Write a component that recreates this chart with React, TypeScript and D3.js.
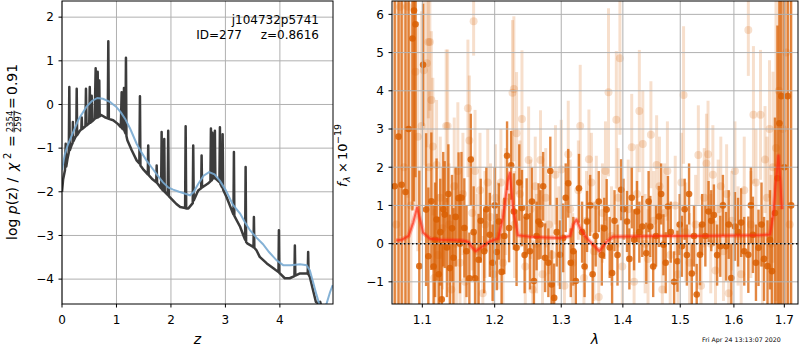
import React from "react";
import * as d3 from "d3";

// ---- p(z) panel data: [z, log p(z)] ----
const pzFull: [number, number][] = [
  [0.0, -2.0], [0.02, -1.72], [0.055, -1.5], [0.068, -0.9], [0.078, -1.42], [0.1, -1.25], [0.125, -1.1],
  [0.134, 0.4], [0.143, -1.05], [0.18, -0.92], [0.195, -0.88], [0.2, -0.4], [0.207, -0.85], [0.24, -0.76],
  [0.262, -0.72], [0.27, 0.36], [0.278, -0.7], [0.33, -0.6], [0.355, -0.57], [0.362, -0.3], [0.37, -0.56],
  [0.43, -0.5], [0.44, 0.36], [0.45, -0.48], [0.5, -0.43], [0.51, 0.4], [0.52, -0.42], [0.538, -0.4],
  [0.545, 0.2], [0.553, -0.39], [0.6, -0.33], [0.618, 0.83], [0.63, -0.31], [0.645, -0.3], [0.655, 0.75],
  [0.665, -0.29], [0.676, -0.28], [0.684, 0.55], [0.692, -0.27], [0.72, -0.24], [0.8, -0.3], [0.84, -0.32],
  [0.85, 1.45], [0.86, -0.33], [0.94, -0.36], [1.03, -0.45], [1.08, -0.52], [1.095, 0.28], [1.104, -0.55],
  [1.11, -0.55], [1.114, 0.25], [1.122, -0.56], [1.13, -0.58], [1.138, 0.38], [1.146, -0.6], [1.165, -0.66],
  [1.174, 1.07], [1.183, -0.72], [1.2, -0.82], [1.28, -1.05], [1.37, -1.28], [1.42, -1.35], [1.431, 0.19],
  [1.44, -1.4], [1.5, -1.5], [1.575, -1.6], [1.583, -0.94], [1.592, -1.62], [1.65, -1.7], [1.73, -1.78],
  [1.738, -1.4], [1.746, -1.8], [1.82, -1.92], [1.829, -0.63], [1.838, -1.95], [1.868, -1.98], [1.877, -0.79],
  [1.886, -2.0], [1.94, -2.07], [1.95, -0.6], [1.96, -2.1], [2.04, -2.2], [2.1, -2.28], [2.17, -2.35],
  [2.26, -2.37], [2.27, -0.5], [2.28, -2.38], [2.32, -2.38], [2.4, -2.26], [2.409, -0.94], [2.418, -2.2],
  [2.5, -1.97], [2.555, -1.92], [2.563, -1.17], [2.571, -1.9], [2.68, -1.81], [2.725, -1.76], [2.734, -0.55],
  [2.743, -1.74], [2.752, -1.73], [2.76, -0.65], [2.768, -1.7], [2.8, -1.68], [2.807, -0.6], [2.815, -1.69],
  [2.89, -1.78], [2.899, -0.52], [2.908, -1.82], [2.94, -1.9], [2.949, -0.68], [2.958, -1.95], [3.02, -2.12],
  [3.14, -2.5], [3.148, -2.52], [3.156, -1.09], [3.164, -2.55], [3.27, -2.8], [3.33, -3.0], [3.362, -3.1],
  [3.371, -1.43], [3.38, -3.15], [3.4, -3.18], [3.51, -3.26], [3.515, -3.27], [3.523, -2.58], [3.531, -3.28],
  [3.57, -3.34], [3.63, -3.49], [3.76, -3.64], [3.88, -3.75], [3.974, -3.84], [3.982, -2.88], [3.99, -3.86],
  [4.0, -3.87], [4.09, -3.98], [4.18, -3.98], [4.267, -3.93], [4.275, -3.23], [4.283, -3.92], [4.37, -3.87],
  [4.49, -3.87], [4.511, -3.88], [4.519, -3.38], [4.527, -3.9], [4.55, -3.95], [4.61, -4.26], [4.66, -4.52],
  [4.7, -4.55], [4.74, -4.52], [4.78, -4.75]
];

const pzSmooth: [number, number][] = [
  [0, -1.5], [0.05, -1.15], [0.1, -0.95], [0.2, -0.65], [0.3, -0.35], [0.45, -0.05], [0.55, 0.08],
  [0.65, 0.15], [0.75, 0.13], [0.88, 0.06], [1.0, -0.06], [1.08, -0.18], [1.16, -0.33], [1.25, -0.55],
  [1.37, -0.9], [1.45, -1.08], [1.55, -1.28], [1.65, -1.45], [1.74, -1.6], [1.85, -1.78], [1.95, -1.9],
  [2.04, -1.95], [2.15, -2.0], [2.25, -2.04], [2.35, -2.08], [2.42, -2.0], [2.5, -1.82], [2.6, -1.63],
  [2.7, -1.55], [2.8, -1.6], [2.9, -1.75], [3.0, -1.95], [3.14, -2.3], [3.27, -2.5], [3.35, -2.68],
  [3.45, -2.88], [3.57, -3.05], [3.69, -3.2], [3.8, -3.38], [3.94, -3.57], [4.06, -3.68], [4.2, -3.68],
  [4.37, -3.66], [4.49, -3.68], [4.55, -3.8], [4.61, -4.07], [4.67, -4.35], [4.73, -4.6], [4.8, -4.7],
  [4.86, -4.55], [4.92, -4.3], [4.97, -4.14]
];

const zTicks = [0, 1, 2, 3, 4];
const logpTicks = [-4, -3, -2, -1, 0, 1, 2];

// ---- spectrum panel data: [lambda, flux, err] ----
const specBinned: [number, number, number][] = [
  [1.064, 1.5, 7], [1.069, 2.8, 6], [1.073, 1.54, 6], [1.078, 1.35, 5], [1.082, 3.0, 5],
  [1.087, 5.37, 4.5], [1.089, 6.1, 5], [1.091, 5.74, 4], [1.096, -0.59, 2.5], [1.101, 4.68, 1.6],
  [1.105, 0.89, 2.0], [1.108, -0.33, 1.8], [1.112, 1.11, 1.8], [1.115, -0.6, 1.6],
  [1.117, 0.1, 1.5], [1.119, 0.63, 1.6], [1.122, -0.8, 1.5], [1.124, 0.3, 1.4], [1.126, -1.46, 1.5],
  [1.128, 0.9, 1.5], [1.13, 0.76, 1.4], [1.133, -0.1, 1.3], [1.135, 1.3, 1.3], [1.137, -0.64, 1.4],
  [1.14, 0.4, 1.4], [1.142, -0.37, 1.3], [1.145, 0.7, 1.3], [1.149, 1.19, 1.2], [1.151, 0.0, 1.3],
  [1.153, 1.2, 1.2], [1.157, 0.41, 1.3], [1.16, -0.2, 1.2], [1.164, -0.91, 1.2], [1.166, 2.2, 1.2],
  [1.17, 0.3, 1.2], [1.172, -0.91, 1.2], [1.177, -0.42, 1.2], [1.18, 0.6, 1.1], [1.185, -0.2, 1.1],
  [1.188, 0.9, 1.1], [1.193, 0.23, 1.1], [1.197, -0.5, 1.0], [1.2, 1.0, 1.0], [1.203, -0.22, 1.0],
  [1.206, 0.58, 1.0], [1.21, -0.74, 1.0], [1.214, 0.2, 1.0], [1.218, 2.3, 0.9], [1.221, 0.41, 0.9],
  [1.224, 2.05, 0.9], [1.228, 0.84, 1.0], [1.232, -0.11, 1.0], [1.236, 1.6, 1.0], [1.24, 0.93, 1.0],
  [1.244, -0.3, 1.0], [1.247, 0.71, 1.0], [1.252, -0.2, 1.0], [1.255, 1.1, 0.9], [1.258, -0.98, 1.0],
  [1.262, 0.2, 0.9], [1.265, 0.58, 1.0], [1.268, 0.5, 0.9], [1.272, 1.5, 0.9], [1.275, -0.37, 0.9],
  [1.28, -0.5, 0.9], [1.283, 1.9, 0.9], [1.285, -1.07, 0.9], [1.289, -1.42, 0.9], [1.293, 0.3, 0.9],
  [1.298, -0.29, 0.9], [1.303, 0.15, 0.9], [1.307, 1.2, 0.9], [1.311, 1.58, 0.9], [1.315, -0.5, 0.9],
  [1.319, -0.2, 0.9], [1.323, -0.98, 0.8], [1.328, 1.45, 0.9], [1.333, 0.3, 0.8], [1.337, -0.6, 0.8],
  [1.341, 0.58, 0.8], [1.346, 1.0, 0.8], [1.35, -0.8, 0.8], [1.355, 0.2, 0.8], [1.36, 1.1, 0.8],
  [1.365, -0.3, 0.8], [1.369, 0.4, 0.8], [1.373, 0.89, 0.8], [1.378, -0.1, 0.8], [1.382, -0.77, 0.8],
  [1.386, 0.6, 0.8], [1.391, -0.3, 0.8], [1.397, 1.41, 0.8], [1.401, 0.9, 0.8], [1.407, 0.58, 0.8],
  [1.411, -0.4, 0.8], [1.415, 1.2, 0.8], [1.419, 0.1, 0.8], [1.424, 0.84, 0.8], [1.428, 0.3, 0.8],
  [1.433, 0.45, 0.8], [1.44, -0.25, 0.8], [1.444, 1.1, 0.8], [1.447, 0.45, 0.8], [1.452, -0.6, 0.8],
  [1.457, 0.2, 0.8], [1.462, 0.71, 0.8], [1.466, 1.3, 0.8], [1.47, -0.03, 0.8], [1.474, -0.5, 0.8],
  [1.478, 0.97, 0.8], [1.483, 0.3, 0.8], [1.489, -1.0, 0.8], [1.495, -0.46, 0.8], [1.499, 0.5, 0.8],
  [1.503, -0.07, 0.8], [1.508, 0.9, 0.8], [1.512, -0.3, 0.8], [1.516, 1.3, 0.8], [1.521, -0.78, 0.8],
  [1.525, 0.2, 0.8], [1.53, -1.33, 0.8], [1.536, -0.29, 0.8], [1.54, 0.5, 0.8], [1.546, 0.2, 0.8],
  [1.552, 0.84, 0.8], [1.557, 0.6, 0.8], [1.562, 0.75, 0.8], [1.568, -0.3, 0.8], [1.574, -0.07, 0.8],
  [1.579, 1.0, 0.8], [1.585, -0.07, 0.9], [1.59, 0.5, 0.9], [1.595, -0.9, 0.9], [1.602, 0.45, 0.9],
  [1.608, 0.3, 0.9], [1.614, 0.55, 0.9], [1.62, -0.2, 0.9], [1.628, -0.29, 1.0], [1.633, 1.0, 1.0],
  [1.637, 0.23, 1.0], [1.643, -0.5, 1.0], [1.648, -0.11, 1.0], [1.654, 0.5, 1.1], [1.659, -0.4, 1.1],
  [1.666, -0.59, 1.2], [1.671, 0.1, 1.3], [1.675, -0.72, 1.4], [1.681, 0.8, 2.5],
  [1.686, 1.71, 4], [1.69, 3.15, 5], [1.694, 3.86, 6], [1.7, 2.0, 7],
  [1.707, 3.86, 7], [1.714, 1.0, 8]
];

const specPixel: [number, number, number][] = [
  [1.066, 0.5, 8], [1.071, 6.2, 6], [1.076, 2.0, 6], [1.081, 6.2, 5], [1.085, 1.0, 5], [1.091, 4.5, 3.5],
  [1.094, 2.8, 3], [1.099, 3.08, 3], [1.102, 4.54, 2.5], [1.106, 4.72, 2.2], [1.108, 5.28, 2], [1.11, 5.28, 1.8],
  [1.109, 2.0, 2], [1.112, 3.76, 1.8], [1.114, 2.54, 1.8], [1.116, -0.9, 1.8], [1.119, 2.06, 1.7],
  [1.121, -0.3, 1.6], [1.124, 1.2, 1.6], [1.127, 0.4, 1.6], [1.132, 3.08, 2.0], [1.134, 3.08, 2.0],
  [1.136, 0.5, 1.6], [1.139, -1.2, 1.6], [1.143, 1.5, 1.8], [1.146, 0.0, 1.6], [1.148, 1.9, 1.8],
  [1.151, -0.5, 1.5], [1.155, 1.3, 1.6], [1.158, -1.0, 1.5], [1.162, 3.54, 1.8], [1.164, 2.7, 1.7],
  [1.17, 5.82, 0.9], [1.168, 0.8, 1.5], [1.172, 1.9, 1.6], [1.175, -0.2, 1.5], [1.179, 1.4, 1.5],
  [1.183, -1.3, 1.5], [1.186, 0.5, 1.4], [1.19, 1.6, 1.4], [1.194, 0.7, 1.4], [1.198, -0.8, 1.4],
  [1.201, 1.2, 1.4], [1.205, 0.2, 1.4], [1.209, 1.6, 1.4], [1.212, -0.5, 1.4], [1.216, 1.1, 1.4],
  [1.226, 3.95, 1.9], [1.228, 4.05, 1.9], [1.232, 2.89, 1.6], [1.229, 0.5, 1.4], [1.24, 3.26, 1.8],
  [1.237, 1.3, 1.4], [1.25, 2.19, 1.4], [1.245, -0.6, 1.3], [1.253, 0.9, 1.3], [1.256, -1.2, 1.3],
  [1.26, 1.5, 1.3], [1.262, 0.0, 1.3], [1.268, 2.19, 1.3], [1.271, -0.8, 1.3], [1.276, 1.2, 1.3],
  [1.281, 0.5, 1.3], [1.286, -0.3, 1.3], [1.291, 1.8, 1.3], [1.296, 0.2, 1.3], [1.3, 1.94, 1.3],
  [1.305, -1.1, 1.3], [1.311, 2.34, 1.4], [1.314, 0.9, 1.3], [1.318, -0.5, 1.3], [1.33, 3.08, 1.6],
  [1.327, 1.4, 1.3], [1.344, 2.21, 1.3], [1.336, -0.9, 1.3], [1.34, 0.6, 1.3], [1.348, 1.6, 1.3],
  [1.352, -0.2, 1.3], [1.356, 1.0, 1.3], [1.36, -1.4, 1.3], [1.366, 0.8, 1.3], [1.371, 1.9, 1.3],
  [1.376, 3.96, 2.2], [1.381, 0.2, 1.3], [1.389, 3.24, 1.8], [1.395, 4.85, 2.0], [1.392, 1.2, 1.3],
  [1.399, -0.6, 1.3], [1.415, 2.52, 1.4], [1.409, 0.9, 1.3], [1.428, 3.47, 1.6], [1.419, -1.0, 1.3],
  [1.434, 2.61, 1.4], [1.424, 1.3, 1.3], [1.438, 0.0, 1.3], [1.448, 2.85, 1.4], [1.443, -0.4, 1.3],
  [1.458, 2.06, 1.3], [1.453, 0.6, 1.3], [1.463, 1.5, 1.3], [1.468, -1.2, 1.3], [1.472, 0.8, 1.3],
  [1.477, 1.9, 1.3], [1.482, -0.3, 1.3], [1.506, 3.89, 1.8], [1.491, 1.0, 1.3], [1.496, -0.8, 1.3],
  [1.502, 1.6, 1.3], [1.51, 0.3, 1.3], [1.533, 2.32, 1.3], [1.517, -0.5, 1.3], [1.548, 2.1, 1.3],
  [1.551, 2.34, 1.4], [1.528, 0.5, 1.3], [1.538, -1.1, 1.3], [1.544, 1.2, 1.3], [1.556, 0.0, 1.3],
  [1.56, 1.8, 1.3], [1.565, -0.7, 1.3], [1.57, 0.9, 1.3], [1.575, 1.5, 1.3], [1.58, -0.2, 1.3],
  [1.586, 1.3, 1.3], [1.59, -1.3, 1.3], [1.596, 0.6, 1.3], [1.602, 1.9, 1.3], [1.608, 0.2, 1.3],
  [1.614, -0.8, 1.3], [1.62, 1.4, 1.4], [1.628, 5.59, 1.2], [1.638, 3.37, 1.8], [1.633, 0.5, 1.4],
  [1.643, 1.6, 1.4], [1.652, 3.37, 1.7], [1.656, -0.5, 1.5], [1.661, 2.2, 1.4], [1.67, 3.0, 1.8],
  [1.665, 1.2, 1.6], [1.673, 0.0, 1.8], [1.677, 2.0, 2.5], [1.683, 2.5, 4],
  [1.689, 4.0, 6], [1.697, 3.0, 7], [1.704, 5.0, 7], [1.711, 0.5, 8]
];

const modelFlux: [number, number][] = [
  [1.066, 0.08], [1.073, 0.1], [1.082, 0.2], [1.088, 0.55], [1.093, 0.94], [1.098, 0.55], [1.101, 0.29],
  [1.11, 0.13], [1.124, 0.1], [1.155, 0.08], [1.162, 0.05], [1.168, -0.1], [1.173, -0.2], [1.183, -0.07],
  [1.192, 0.05], [1.205, 0.13], [1.212, 0.68], [1.219, 1.63], [1.222, 1.85], [1.227, 0.9], [1.234, 0.22],
  [1.252, 0.18], [1.277, 0.16], [1.298, 0.15], [1.314, 0.2], [1.319, 0.5], [1.324, 0.63], [1.33, 0.4],
  [1.34, 0.15], [1.352, -0.05], [1.361, -0.2], [1.368, -0.05], [1.373, 0.05], [1.383, 0.18], [1.464, 0.2],
  [1.523, 0.2], [1.651, 0.22], [1.671, 0.24], [1.678, 0.8], [1.682, 1.5], [1.688, 2.3], [1.692, 1.6],
  [1.695, 0.9]
];

const lamTicks = [1.1, 1.2, 1.3, 1.4, 1.5, 1.6, 1.7];
const fluxTicks = [-1, 0, 1, 2, 3, 4, 5, 6];

const objName = "j104732p5741";
const objId = "ID=277";
const objZ = "z=0.8616";
const stamp = "Fri Apr 24 13:13:07 2020";

const FONT = "DejaVu Sans, sans-serif";
const fmt = (v: number) => (v < 0 ? "\u2212" + Math.abs(v) : String(v));

export default function App() {
  const L = { x0: 62, x1: 333, y0: 1, y1: 304 };
  const R = { x0: 392, x1: 798, y0: 1, y1: 304 };

  const zx = d3.scaleLinear().domain([0, 4.975]).range([L.x0, L.x1]);
  const zy = d3.scaleLinear().domain([-4.57, 2.37]).range([L.y1, L.y0]);
  const lx = d3.scaleLog().domain([1.0606, 1.7282]).range([R.x0, R.x1]);
  const fy = d3.scaleLinear().domain([-1.58, 6.35]).range([R.y1, R.y0]);

  const pzLine = d3.line<[number, number]>().x(d => zx(d[0])).y(d => zy(d[1]));
  const modelLine = d3.line<[number, number]>().x(d => lx(d[0])).y(d => fy(d[1]));

  const orange = "#d95f02";

  return (
    <svg width={800} height={350} style={{ position: "absolute", left: 0, top: 0 }} fontFamily={FONT}>
      <defs>
        <clipPath id="clipL"><rect x={L.x0} y={L.y0} width={L.x1 - L.x0} height={L.y1 - L.y0} /></clipPath>
        <clipPath id="clipR"><rect x={R.x0} y={R.y0} width={R.x1 - R.x0} height={R.y1 - R.y0} /></clipPath>
      </defs>
      <rect width={800} height={350} fill="#fff" />

      {/* ---------- left: p(z) ---------- */}
      <g>
        {zTicks.map(t => (
          <line key={"zg" + t} x1={zx(t)} x2={zx(t)} y1={L.y0} y2={L.y1} stroke="#b0b0b0" strokeWidth={1} />
        ))}
        {logpTicks.map(t => (
          <line key={"pg" + t} x1={L.x0} x2={L.x1} y1={zy(t)} y2={zy(t)} stroke="#b0b0b0" strokeWidth={1} />
        ))}
        <g clipPath="url(#clipL)">
          <path d={pzLine(pzFull)!} fill="none" stroke="#3c3c3c" strokeWidth={2.5} strokeLinejoin="round" />
          <path d={pzLine(pzSmooth)!} fill="none" stroke="#78aad2" strokeWidth={2} opacity={0.9} />
        </g>
        <rect x={L.x0} y={L.y0} width={L.x1 - L.x0} height={L.y1 - L.y0} fill="none" stroke="#000" strokeWidth={1} />
        {zTicks.map(t => (
          <g key={"zt" + t} transform={`translate(${zx(t)},${L.y1})`}>
            <line y2={3.5} stroke="#000" />
            <text y={20} textAnchor="middle" fontSize={12}>{fmt(t)}</text>
          </g>
        ))}
        {logpTicks.map(t => (
          <g key={"pt" + t} transform={`translate(${L.x0},${zy(t)})`}>
            <line x2={-3.5} stroke="#000" />
            <text x={-8} y={4.3} textAnchor="end" fontSize={12}>{fmt(t)}</text>
          </g>
        ))}
        <text x={(L.x0 + L.x1) / 2} y={344} textAnchor="middle" fontSize={14} fontStyle="italic">z</text>
        <text x={319} y={24} textAnchor="end" fontSize={12}>{objName}</text>
        <text x={242} y={39} textAnchor="end" fontSize={12}>{objId}</text>
        <text x={319} y={39} textAnchor="end" fontSize={12}>{objZ}</text>
        {/* y label: log p(z) / chi^2 = 2354/2597 = 0.91 */}
        <g transform="translate(17,240) rotate(-90)" fontSize={14}>
          <text x={0} y={0}>log <tspan fontStyle="italic">p</tspan>(z) /</text>
          <text x={69} y={0} fontStyle="italic">χ</text>
          <text x={81} y={-6} fontSize={10}>2</text>
          <text x={99} y={0} textAnchor="middle">=</text>
          <text x={118.5} y={-4.5} textAnchor="middle" fontSize={8.5}>2354</text>
          <line x1={107.5} x2={129.5} y1={-3} y2={-3} stroke="#000" strokeWidth={0.7} />
          <text x={118.5} y={3.5} textAnchor="middle" fontSize={8.5}>2597</text>
          <text x={137} y={0} textAnchor="middle">=</text>
          <text x={145} y={0}>0.91</text>
        </g>
      </g>

      {/* ---------- right: spectrum ---------- */}
      <g>
        <g clipPath="url(#clipR)">
          {specPixel.map((d, i) => (
            <g key={"lp" + i}>
              <line x1={lx(d[0])} x2={lx(d[0])} y1={fy(d[1] - d[2])} y2={fy(d[1] + d[2])}
                stroke={orange} strokeWidth={3} strokeOpacity={0.2} />
              <circle cx={lx(d[0])} cy={fy(d[1])} r={4} fill={orange} fillOpacity={0.2} />
            </g>
          ))}
          {specBinned.map((d, i) => (
            <g key={"dp" + i}>
              <line x1={lx(d[0])} x2={lx(d[0])} y1={fy(d[1] - d[2])} y2={fy(d[1] + d[2])}
                stroke={orange} strokeWidth={2.4} strokeOpacity={0.75} />
              <circle cx={lx(d[0])} cy={fy(d[1])} r={3.3} fill={orange} fillOpacity={0.85} />
            </g>
          ))}
        </g>
        {lamTicks.map(t => (
          <line key={"lg" + t} x1={lx(t)} x2={lx(t)} y1={R.y0} y2={R.y1} stroke="#b0b0b0" strokeWidth={1} />
        ))}
        {fluxTicks.map(t => (
          <line key={"fg" + t} x1={R.x0} x2={R.x1} y1={fy(t)} y2={fy(t)} stroke="#b0b0b0" strokeWidth={1} />
        ))}
        <g clipPath="url(#clipR)">
          <path d={modelLine(modelFlux)!} fill="none" stroke="#ff2a10" strokeWidth={4.5} strokeOpacity={0.3} strokeLinejoin="round" />
          <path d={modelLine(modelFlux)!} fill="none" stroke="#ff2a10" strokeWidth={2} strokeOpacity={0.65} strokeLinejoin="round" />
          <line x1={R.x0} x2={R.x1} y1={fy(0)} y2={fy(0)} stroke="#000" strokeWidth={1.5} strokeDasharray="1.5,2.5" />
        </g>
        <rect x={R.x0} y={R.y0} width={R.x1 - R.x0} height={R.y1 - R.y0} fill="none" stroke="#000" strokeWidth={1} />
        {lamTicks.map(t => (
          <g key={"lt" + t} transform={`translate(${lx(t)},${R.y1})`}>
            <line y2={3.5} stroke="#000" />
            <text y={20} textAnchor="middle" fontSize={12}>{t.toFixed(1)}</text>
          </g>
        ))}
        {fluxTicks.map(t => (
          <g key={"ft" + t} transform={`translate(${R.x0},${fy(t)})`}>
            <line x2={-3.5} stroke="#000" />
            <text x={-8} y={4.3} textAnchor="end" fontSize={12}>{fmt(t)}</text>
          </g>
        ))}
        <text x={(R.x0 + R.x1) / 2} y={344} textAnchor="middle" fontSize={14} fontStyle="italic">λ</text>
        <g transform="translate(347,187) rotate(-90)" fontSize={13}>
          <text x={0} y={0} fontStyle="italic">f</text>
          <text x={5} y={3} fontSize={9.5} fontStyle="italic">λ</text>
          <text x={14} y={0}>×</text>
          <text x={27} y={0}>10</text>
          <text x={43} y={-6} fontSize={9.5}>−19</text>
        </g>
        <text x={702} y={342} fontSize={6.3}>{stamp}</text>
      </g>
    </svg>
  );
}
